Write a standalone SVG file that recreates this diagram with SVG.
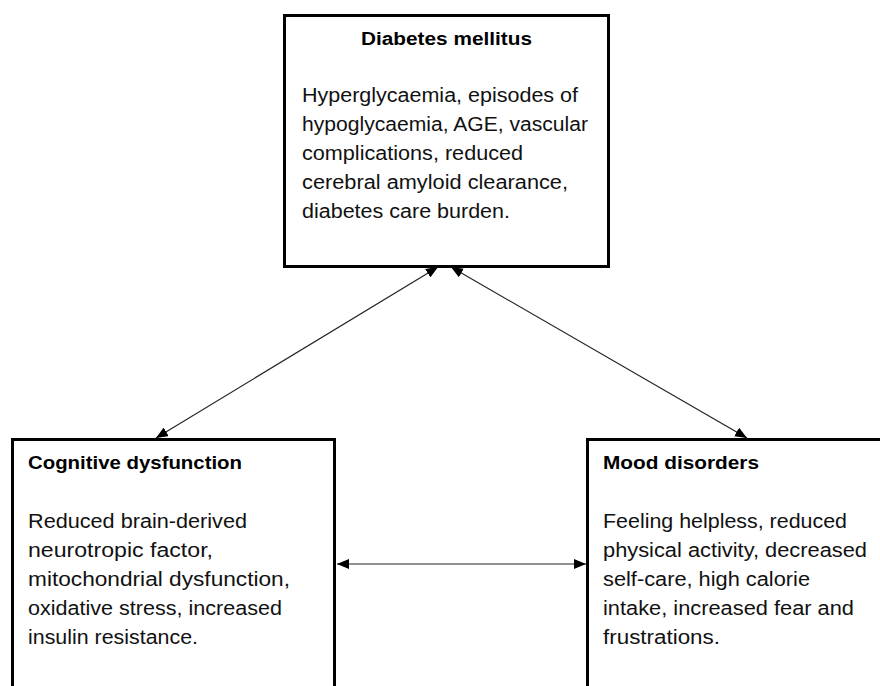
<svg xmlns="http://www.w3.org/2000/svg" width="880" height="686" viewBox="0 0 880 686">
<style>
.box{fill:#fff;stroke:#000;stroke-width:3}
.t{font-family:"Liberation Sans",Arial,sans-serif;font-size:17.5px;font-weight:bold;fill:#000}
.b{font-family:"Liberation Sans",Arial,sans-serif;font-size:19.5px;fill:#111}
.c{stroke:#222;stroke-width:1.2;fill:none}
</style>
<defs>
<marker id="ah" viewBox="0 0 12 10" refX="12" refY="5" markerWidth="12" markerHeight="10" markerUnits="userSpaceOnUse" orient="auto-start-reverse">
<path d="M0,0 L12,5 L0,10 Z" fill="#000"/>
</marker>
</defs>
<rect width="880" height="686" fill="#fff"/>
<g id="diabetes">
<rect class="box" x="284.5" y="15.5" width="324" height="251"/>
<text class="t" x="361" y="45" textLength="171" lengthAdjust="spacingAndGlyphs">Diabetes mellitus</text>
<text class="b" x="302" y="102" textLength="276" lengthAdjust="spacingAndGlyphs">Hyperglycaemia, episodes of</text>
<text class="b" x="302" y="131" textLength="286" lengthAdjust="spacingAndGlyphs">hypoglycaemia, AGE, vascular</text>
<text class="b" x="302" y="160" textLength="221" lengthAdjust="spacingAndGlyphs">complications, reduced</text>
<text class="b" x="302" y="189" textLength="266" lengthAdjust="spacingAndGlyphs">cerebral amyloid clearance,</text>
<text class="b" x="302" y="218" textLength="208" lengthAdjust="spacingAndGlyphs">diabetes care burden.</text>
</g>
<g id="cognitive">
<rect class="box" x="12.5" y="439.5" width="322" height="260"/>
<text class="t" x="28" y="469" textLength="214" lengthAdjust="spacingAndGlyphs">Cognitive dysfunction</text>
<text class="b" x="28" y="528" textLength="219" lengthAdjust="spacingAndGlyphs">Reduced brain-derived</text>
<text class="b" x="28" y="557" textLength="185" lengthAdjust="spacingAndGlyphs">neurotropic factor,</text>
<text class="b" x="28" y="586" textLength="262" lengthAdjust="spacingAndGlyphs">mitochondrial dysfunction,</text>
<text class="b" x="28" y="615" textLength="254" lengthAdjust="spacingAndGlyphs">oxidative stress, increased</text>
<text class="b" x="28" y="644" textLength="170" lengthAdjust="spacingAndGlyphs">insulin resistance.</text>
</g>
<g id="mood">
<rect class="box" x="587.5" y="439.5" width="310" height="260"/>
<text class="t" x="603" y="469" textLength="156" lengthAdjust="spacingAndGlyphs">Mood disorders</text>
<text class="b" x="603" y="528" textLength="244" lengthAdjust="spacingAndGlyphs">Feeling helpless, reduced</text>
<text class="b" x="603" y="557" textLength="264" lengthAdjust="spacingAndGlyphs">physical activity, decreased</text>
<text class="b" x="603" y="586" textLength="207" lengthAdjust="spacingAndGlyphs">self-care, high calorie</text>
<text class="b" x="603" y="615" textLength="251" lengthAdjust="spacingAndGlyphs">intake, increased fear and</text>
<text class="b" x="603" y="644" textLength="117" lengthAdjust="spacingAndGlyphs">frustrations.</text>
</g>
<g id="connectors">
<line class="c" x1="438" y1="267" x2="156" y2="438" marker-start="url(#ah)" marker-end="url(#ah)"/>
<line class="c" x1="451" y1="267" x2="747" y2="438" marker-start="url(#ah)" marker-end="url(#ah)"/>
<line class="c" x1="337" y1="564" x2="586" y2="564" marker-start="url(#ah)" marker-end="url(#ah)"/>
</g>
</svg>
